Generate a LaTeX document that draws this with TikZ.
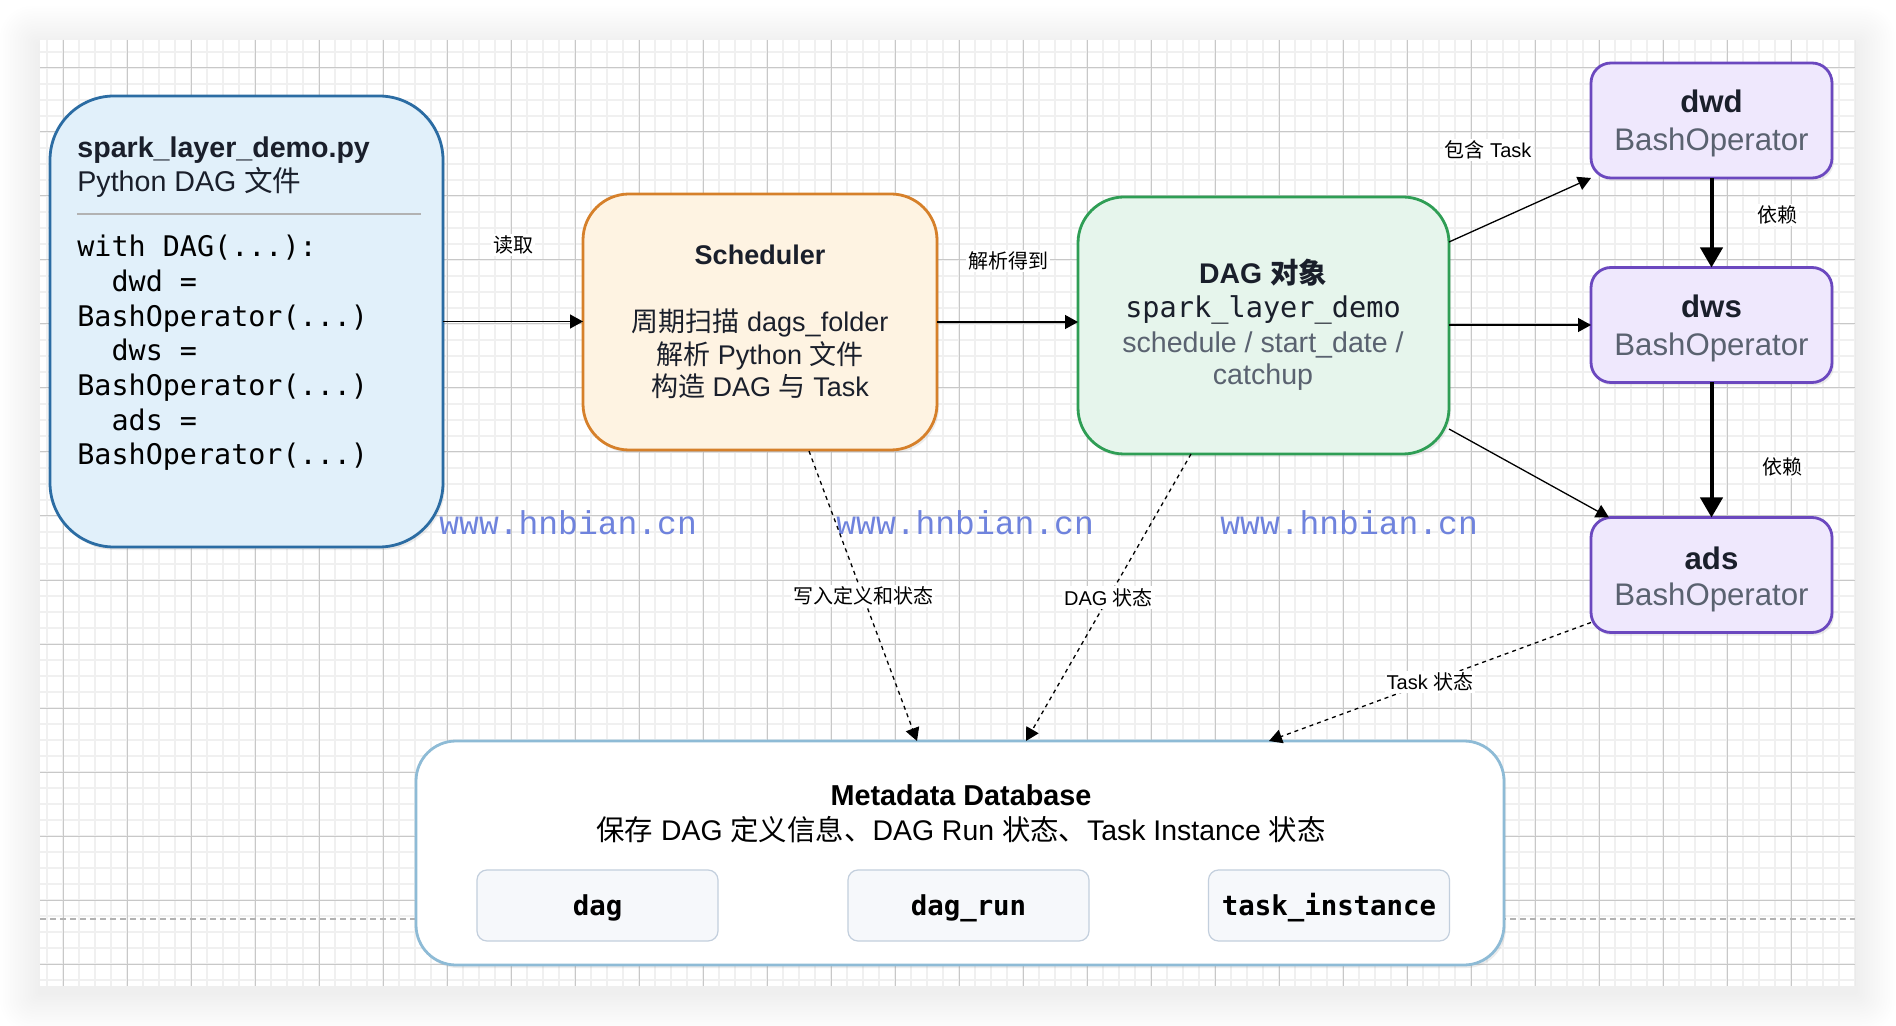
\documentclass[tikz,border=0pt]{standalone}
\usepackage{fontspec}
\setmainfont{Liberation Sans}
\newfontfamily\cjk{Noto Sans CJK SC}
\newfontfamily\mono{DejaVu Sans Mono}
\newfontfamily\wmfont{Liberation Mono}
\usetikzlibrary{arrows.meta,calc,shadows}
\newcommand\zh[1]{{\cjk #1}}
\newcommand\setfs[1]{\fontsize{#1pt}{#1pt}\selectfont}
\definecolor{pyfill}{RGB}{225,240,250}
\definecolor{pystroke}{RGB}{43,108,163}
\definecolor{scfill}{RGB}{254,243,226}
\definecolor{scstroke}{RGB}{214,128,42}
\definecolor{dgfill}{RGB}{230,245,236}
\definecolor{dgstroke}{RGB}{47,158,85}
\definecolor{opfill}{RGB}{239,232,253}
\definecolor{opstroke}{RGB}{107,72,191}
\definecolor{mtstroke}{RGB}{142,187,214}
\definecolor{sbfill}{RGB}{246,248,251}
\definecolor{sbstroke}{RGB}{195,207,221}
\definecolor{darktext}{RGB}{26,31,43}
\definecolor{graytext}{RGB}{90,98,112}
\definecolor{wmcolor}{RGB}{111,131,221}
\definecolor{minorgrid}{RGB}{240,240,240}
\definecolor{majorgrid}{RGB}{200,200,200}
\begin{document}
\begin{tikzpicture}[x=0.5pt,y=-0.5pt,
  box/.style={inner sep=0pt, outer sep=0pt, line width=1.4pt,
    drop shadow={shadow xshift=1pt, shadow yshift=-1.5pt, opacity=0.15}},
  opbox/.style={box, fill=opfill, draw=opstroke, rounded corners=10pt,
    minimum width=120.5pt, minimum height=57.5pt},
  subbox/.style={inner sep=0pt, outer sep=0pt, line width=0.6pt, fill=sbfill,
    draw=sbstroke, rounded corners=5pt, minimum width=120.5pt, minimum height=35.5pt},
  txt/.style={inner sep=0pt, anchor=base, text=darktext},
  codeline/.style={inner sep=0pt, anchor=base west, text=black, font={\mono\setfs{14.2}}},
  lbl/.style={fill=white, inner sep=1pt, text=black, font={\setfs{10}}},
  thinarr/.style={draw=black, line width=0.65pt, -{Triangle[length=6.5pt,width=7pt]}},
  dasharr/.style={thinarr, dash pattern=on 2pt off 2pt},
  thickarr/.style={draw=black, line width=2pt, -{Triangle[length=10pt,width=11pt]}},
  wm/.style={inner sep=0pt, anchor=base west, text=wmcolor, font={\wmfont\setfs{16.5}}}
]
\useasboundingbox (0,0) rectangle (1896,1026);
\fill[white] (0,0) rectangle (1896,1026);
% canvas shadow
\foreach \i in {1,...,16}{
  \fill[black, opacity=0.004, rounded corners=\i pt] (40-2.5*\i,40-2.5*\i+6) rectangle (1855+2.5*\i,986+2.5*\i+6);
}
\fill[white] (40,40) rectangle (1855,986);
% grid
\begin{scope}
\clip (40,40) rectangle (1855,986);
\foreach \x in {47,63,...,1855} \draw[minorgrid, line width=0.85pt] (\x,40) -- (\x,986);
\foreach \y in {52,68,...,980} \draw[minorgrid, line width=0.85pt] (40,\y) -- (1855,\y);
\foreach \x in {63,127,...,1855} \draw[majorgrid, line width=0.5pt] (\x,40) -- (\x,986);
\foreach \y in {68,132,...,964} \draw[majorgrid, line width=0.5pt] (40,\y) -- (1855,\y);
\end{scope}
% page break line
\draw[black!30, line width=0.8pt, dash pattern=on 3pt off 2pt] (40,919) -- (1855,919);

% boxes
\node[box, fill=pyfill, draw=pystroke, rounded corners=32pt,
  minimum width=196.5pt, minimum height=225.5pt] (pyfile) at (246.5,321.5) {};
\node[box, fill=scfill, draw=scstroke, rounded corners=23pt,
  minimum width=177pt, minimum height=128pt] (sched) at (760,322) {};
\node[box, fill=dgfill, draw=dgstroke, rounded corners=23pt,
  minimum width=185.5pt, minimum height=128.5pt] (dagobj) at (1263.5,325.5) {};
\node[opbox] (dwd) at (1711.5,120.5) {};
\node[opbox] (dws) at (1711.5,325) {};
\node[opbox] (ads) at (1711.5,575) {};
\node[box, fill=white, draw=mtstroke, rounded corners=20pt,
  minimum width=544pt, minimum height=112pt] (meta) at (960,853) {};
\node[subbox] (tdag) at (597.5,905.5) {};
\node[subbox] (tdagrun) at (968.5,905.5) {};
\node[subbox] (ttask) at (1329,905.5) {};

% python file text
\node[txt, anchor=base west] (pytitle) at (77,158) {\setfs{14.3}\bfseries spark\_layer\_demo.py};
\node[txt, anchor=base west] (pysub) at (77,192) {\setfs{14.3}Python DAG \zh{文件}};
\draw[black!30, line width=0.6pt] (77,214) -- (421,214);
\node[codeline] (code0) at (77,257) {with DAG(...):};
\node[codeline] (code1) at (77,291.7) {\phantom{dd}dwd =};
\node[codeline] (code2) at (77,326.3) {BashOperator(...)};
\node[codeline] (code3) at (77,361) {\phantom{dd}dws =};
\node[codeline] (code4) at (77,395.7) {BashOperator(...)};
\node[codeline] (code5) at (77,430.3) {\phantom{dd}ads =};
\node[codeline] (code6) at (77,465) {BashOperator(...)};

% scheduler text
\node[txt] (sctitle) at (760,265) {\setfs{13.5}\bfseries Scheduler};
\node[txt] (sc1) at (760,332) {\setfs{13.5}\zh{周期扫描} dags\_folder};
\node[txt] (sc2) at (760,365) {\setfs{13.5}\zh{解析} Python \zh{文件}};
\node[txt] (sc3) at (760,397) {\setfs{13.5}\zh{构造} DAG \zh{与} Task};

% dag object text
\node[txt] (dgtitle) at (1263,284) {\setfs{14.2}\bfseries DAG \zh{对象}};
\node[txt] (dg1) at (1263,318) {\mono\setfs{14.3}spark\_layer\_demo};
\node[txt, text=graytext] (dg2) at (1263,353) {\setfs{14.3}schedule / start\_date /};
\node[txt, text=graytext] (dg3) at (1263,385) {\setfs{14.3}catchup};

% operator text
\node[txt] (dwdt) at (1711.5,113) {\setfs{15.6}\bfseries dwd};
\node[txt, text=graytext] (dwds) at (1711.5,151) {\setfs{15.6}BashOperator};
\node[txt] (dwst) at (1711.5,318) {\setfs{15.6}\bfseries dws};
\node[txt, text=graytext] (dwss) at (1711.5,356) {\setfs{15.6}BashOperator};
\node[txt] (adst) at (1711.5,569) {\setfs{15.6}\bfseries ads};
\node[txt, text=graytext] (adss) at (1711.5,605) {\setfs{15.6}BashOperator};

% metadata text
\node[txt, text=black] (mttitle) at (961,805) {\setfs{14.4}\bfseries Metadata Database};
\node[txt, text=black] (mtsub) at (961,840) {\setfs{14.2}\zh{保存} DAG \zh{定义信息、}DAG Run \zh{状态、}Task Instance \zh{状态}};
\node[txt, text=black] (tdagt) at (597.5,915) {\mono\setfs{13.7}\bfseries dag};
\node[txt, text=black] (tdagrunt) at (968.5,915) {\mono\setfs{13.7}\bfseries dag\_run};
\node[txt, text=black] (ttaskt) at (1329,915) {\mono\setfs{13.7}\bfseries task\_instance};

% watermarks
\node[wm] (wm1) at (439,535) {www.hnbian.cn};
\node[wm] (wm2) at (836,535) {www.hnbian.cn};
\node[wm] (wm3) at (1220,535) {www.hnbian.cn};

% connectors
\draw[thinarr] (pyfile.east) -- (pyfile.east -| sched.west);
\node[lbl] (lread) at (513,245) {\zh{读取}};
\draw[thinarr] (sched.east) -- (sched.east -| dagobj.west);
\node[lbl] (lparse) at (1008,261) {\zh{解析得到}};
\coordinate (dgA) at ($(dagobj.east)+(0,-83.5)$);
\coordinate (dgB) at ($(dagobj.east)+(0,103.5)$);
\coordinate (adsA) at ($(ads.north west)+(18,0)$);
\draw[thinarr] (dgA) -- (dwd.south west);
\node[lbl] (lcontain) at (1488,150) {\zh{包含} Task};
\draw[thinarr] (dagobj.east |- dws.west) -- (dws.west);
\draw[thinarr] (dgB) -- (adsA);
\draw[thickarr] (dwd.south) -- (dws.north);
\draw[thickarr] (dws.south) -- (ads.north);
\node[lbl] (ldep1) at (1777,215) {\zh{依赖}};
\node[lbl] (ldep2) at (1782,467) {\zh{依赖}};
\coordinate (s1) at ($(sched.south)+(49,1)$);
\coordinate (m1) at ($(meta.north)+(-43,0)$);
\coordinate (d1) at ($(dagobj.south)+(-72.5,0)$);
\coordinate (m2) at ($(meta.north)+(66,0)$);
\coordinate (a1) at ($(ads.south west)+(0,-10)$);
\coordinate (m3) at ($(meta.north)+(309,0)$);
\draw[dasharr] (s1) -- (m1) node[lbl, pos=0.5] (lwrite) {\zh{写入定义和状态}};
\draw[dasharr] (d1) -- (m2) node[lbl, pos=0.5] (ldagst) {DAG \zh{状态}};
\draw[dasharr] (a1) -- (m3) node[lbl, pos=0.5] (ltaskst) {Task \zh{状态}};
\end{tikzpicture}
\end{document}
